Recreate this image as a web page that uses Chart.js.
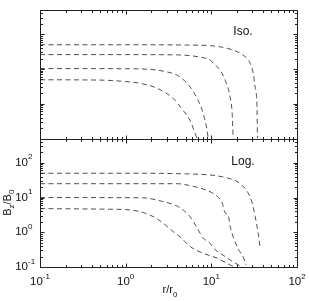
<!DOCTYPE html>
<html>
<head>
<meta charset="utf-8">
<script src="https://cdn.jsdelivr.net/npm/chart.js@4.4.0/dist/chart.umd.min.js"></script>
<style>
  html, body { margin: 0; padding: 0; background: #fff; }
</style>
</head>
<body>
<canvas id="myChart" width="309" height="301"></canvas>
<script>
// values (r/r0 , Bz/B0)
const isoR1 = [0.1, 1, 5, 9.7, 12.7, 18, 23.5, 28.4, 30.8, 32.5, 34, 34.6];
const isoB1 = [50, 50, 49, 47, 43.5, 35, 25, 14.7, 7.6, 3, 1.03, 0.1];
const isoR2 = [0.1, 1, 4, 7.4, 9.7, 10.5, 12.7, 14.5, 16.6, 17.5, 18];
const isoB2 = [26, 26, 25.5, 22, 18, 14.7, 9.2, 4.75, 1.53, 0.53, 0.1];
const isoR3 = [0.1, 1, 3.05, 4.32, 5.65, 7.01, 8.02, 8.93, 9.18];
const isoB3 = [10.3, 10.2, 8.25, 5.9, 3.04, 1.25, 0.53, 0.17, 0.1];
const isoR4 = [0.1, 0.5, 1.22, 1.47, 2.4, 3.58, 4.69, 5.65, 6.47, 6.82];
const isoB4 = [4.9, 4.8, 4.15, 3.9, 2.7, 1.43, 0.64, 0.33, 0.14, 0.1];

const logR1 = [0.1, 1, 5, 10.5, 15.3, 20, 23.5, 26.9, 30, 32.5, 35.2, 37.2];
const logB1 = [50, 50, 48, 43.5, 36.6, 29, 21, 13.5, 6.9, 2.84, 0.94, 0.35];
const logR2 = [0.1, 1, 4, 6.1, 8.9, 11.7, 13.4, 14.5, 15.7, 16.6, 18, 20.6, 23.5, 25.5];
const logB2 = [25, 25, 25, 21, 16, 10.8, 6.9, 3.6, 3.2, 1.46, 0.74, 0.33, 0.195, 0.114];
const logR3 = [0.1, 1.6, 2.7, 3.6, 4.3, 5.65, 6.8, 8, 9.7, 10.5, 13.7, 18, 22.9];
const logB3 = [10, 9.8, 7.7, 6.3, 5.1, 2.8, 1.35, 0.69, 0.48, 0.36, 0.22, 0.14, 0.1];
const logR4 = [0.1, 0.65, 1.12, 1.83, 2.59, 3.39, 4.44, 5.65, 8, 11.7, 16.6, 19];
const logB4 = [4.8, 4.6, 4.4, 3.3, 2.04, 1.17, 0.69, 0.39, 0.25, 0.18, 0.114, 0.1];

const xTickExps = [-1, 0, 1, 2];
const yTickExps = [-1, 0, 1, 2];
const panelLabels = ["Iso.", "Log."];

const FONT = '"Liberation Sans", Arial, sans-serif';

function curve(r, b, axis) {
  return {
    data: r.map((v, i) => ({ x: v, y: b[i] })),
    yAxisID: axis,
    borderColor: "#3c3c3c",
    borderWidth: 0.9,
    borderDash: [5, 3.5],
    pointRadius: 0,
    fill: false,
    cubicInterpolationMode: "monotone",
  };
}

function pow10(ctx, exp, x, y, align) {
  const sup = String(exp);
  ctx.font = "11.5px " + FONT;
  const wb = ctx.measureText("10").width;
  ctx.font = "8px " + FONT;
  const ws = ctx.measureText(sup).width;
  let left = align === "center" ? x - (wb + ws) / 2 : x - wb;
  ctx.textAlign = "left";
  ctx.textBaseline = "middle";
  ctx.font = "11.5px " + FONT;
  ctx.fillText("10", left, y);
  ctx.font = "8px " + FONT;
  ctx.fillText(sup, left + wb, y - 5.5);
}

const decor = {
  id: "decor",
  afterDraw(chart) {
    const { ctx, chartArea: a, scales } = chart;
    const xs = scales.x;
    const mant = [1, 2, 3, 4, 5, 6, 7, 8, 9];
    ctx.save();
    ctx.strokeStyle = "#222";
    ctx.lineWidth = 1;
    const seg = (x1, y1, x2, y2) => {
      ctx.beginPath(); ctx.moveTo(x1, y1); ctx.lineTo(x2, y2); ctx.stroke();
    };
    [scales.y2, scales.y].forEach((ys) => {
      const top = Math.round(ys.top) + 0.5, bot = Math.round(ys.bottom) + 0.5;
      const l = Math.round(a.left) + 0.5, r = Math.round(a.right) + 0.5;
      ctx.strokeRect(l, top, r - l, bot - top);
      for (let e = -1; e <= 2; e++) {
        mant.forEach((m) => {
          const v = m * Math.pow(10, e);
          const len = m === 1 ? 4 : 2.5;
          if (v >= 0.1 && v <= 100) {
            const px = Math.round(xs.getPixelForValue(v)) + 0.5;
            seg(px, bot, px, bot - len);
            seg(px, top, px, top + len);
          }
          if (v >= ys.min && v <= ys.max) {
            const py = Math.round(ys.getPixelForValue(v)) + 0.5;
            seg(l, py, l + len, py);
            seg(r, py, r - len, py);
          }
        });
      }
    });

    ctx.fillStyle = "#111";
    xTickExps.forEach((e) => {
      pow10(ctx, e, xs.getPixelForValue(Math.pow(10, e)), 282, "center");
    });
    yTickExps.forEach((e) => {
      pow10(ctx, e, 28, scales.y.getPixelForValue(Math.pow(10, e)), "right");
    });

    // panel labels
    ctx.font = "12px " + FONT;
    ctx.textAlign = "center";
    ctx.textBaseline = "middle";
    ctx.fillText(panelLabels[0], 243, scales.y2.top + 22);
    ctx.fillText(panelLabels[1], 243, scales.y.top + 23);

    // x title r/r0
    ctx.textAlign = "left";
    ctx.font = "11px " + FONT;
    const w1 = ctx.measureText("r/r").width;
    ctx.font = "8px " + FONT;
    const w2 = ctx.measureText("0").width;
    let x0 = 170 - (w1 + w2) / 2;
    ctx.font = "11px " + FONT;
    ctx.fillText("r/r", x0, 290);
    ctx.font = "8px " + FONT;
    ctx.fillText("0", x0 + w1, 295);

    // y title Bz/B0
    ctx.save();
    ctx.translate(8, (scales.y.top + scales.y.bottom) / 2);
    ctx.rotate(-Math.PI / 2);
    const parts = [["B", 11, 0], ["z", 8, 4], ["/B", 11, 0], ["0", 8, 4]];
    let tw = 0;
    parts.forEach((p) => { ctx.font = p[1] + "px " + FONT; tw += ctx.measureText(p[0]).width; });
    let cx = -tw / 2;
    parts.forEach((p) => {
      ctx.font = p[1] + "px " + FONT;
      ctx.fillText(p[0], cx, p[2]);
      cx += ctx.measureText(p[0]).width;
    });
    ctx.restore();
    ctx.restore();
  },
};

const hidden = {
  ticks: { display: false },
  grid: { display: false, drawTicks: false },
  border: { display: false },
};

const ctx = document.getElementById("myChart").getContext("2d");
new Chart(ctx, {
  type: "line",
  data: {
    datasets: [
      curve(logR1, logB1, "y"),
      curve(logR2, logB2, "y"),
      curve(logR3, logB3, "y"),
      curve(logR4, logB4, "y"),
      curve(isoR1, isoB1, "y2"),
      curve(isoR2, isoB2, "y2"),
      curve(isoR3, isoB3, "y2"),
      curve(isoR4, isoB4, "y2"),
    ],
  },
  options: {
    responsive: false,
    animation: false,
    layout: { padding: { left: 40, right: 12, top: 10, bottom: 34 } },
    plugins: { legend: { display: false }, tooltip: { enabled: false } },
    scales: {
      x: { type: "logarithmic", min: 0.1, max: 100, ...hidden },
      y: { type: "logarithmic", position: "left", stack: "panels", min: 0.1, max: 500, ...hidden },
      y2: { type: "logarithmic", position: "left", stack: "panels", min: 0.1, max: 500, ...hidden },
    },
  },
  plugins: [decor],
});
</script>
</body>
</html>
